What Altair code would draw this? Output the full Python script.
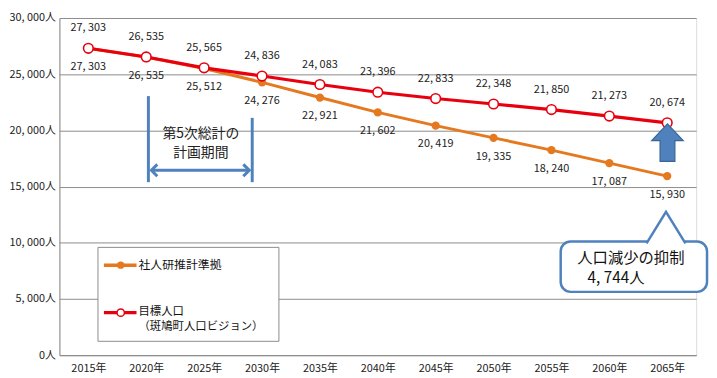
import altair as alt
import pandas as pd

years = [2015, 2020, 2025, 2030, 2035, 2040, 2045, 2050, 2055, 2060, 2065]
target = [27303, 26535, 25565, 24836, 24083, 23396, 22833, 22348, 21850, 21273, 20674]
ipss = [27303, 26535, 25512, 24276, 22921, 21602, 20419, 19335, 18240, 17087, 15930]
series_names = ["社人研推計準拠", "目標人口"]
legend_line2 = "（斑鳩町人口ビジョン）"
period_text = ["第5次総計の", "計画期間"]
callout_text = ["人口減少の抑制", "4, 744人"]
y_ticks = [0, 5000, 10000, 15000, 20000, 25000, 30000]

ORANGE = "#E5791F"
RED = "#E8000E"
BLUE = "#4F81BD"
BLUE_D = "#3A6594"
FONT = "Noto Sans CJK JP"
TOP = 8  # top padding, so the 30,000 label is not cut off

df_o = pd.DataFrame({"year": years, "value": ipss})
df_r = pd.DataFrame({"year": years, "value": target})

X = alt.X("year:Q", scale=alt.Scale(domain=[2012.5, 2067.5], nice=False),
          axis=alt.Axis(values=years, labelExpr="datum.value + '年'", grid=False, ticks=False,
                        title=None, domainColor="#8c8c8c", labelPadding=8, labelFontSize=11,
                        labelColor="#222", labelFont=FONT))
Y = alt.Y("value:Q", scale=alt.Scale(domain=[0, 30000], nice=False),
          axis=alt.Axis(values=y_ticks,
                        labelExpr="datum.value == 0 ? '0人' : replace(format(datum.value, ','), ',', ', ') + '人'",
                        ticks=False, title=None, domainColor="#8c8c8c", gridColor="#8c8c8c",
                        labelPadding=4, labelFontSize=11, labelColor="#222", labelFont=FONT))

lab = "replace(format(datum.value, ','), ',', ', ')"

orange_line = alt.Chart(df_o).mark_line(color=ORANGE, strokeWidth=3).encode(x=X, y=Y)
orange_pts = alt.Chart(df_o).mark_point(filled=True, color=ORANGE, size=70, opacity=1).encode(x="year:Q", y="value:Q")
red_line = alt.Chart(df_r).mark_line(color=RED, strokeWidth=3.2).encode(x="year:Q", y="value:Q")
red_pts = alt.Chart(df_r).mark_point(filled=True, fill="white", stroke=RED, strokeWidth=1.6, size=95, opacity=1).encode(x="year:Q", y="value:Q")

orange_lab = alt.Chart(df_o).transform_calculate(lbl=lab).mark_text(
    dy=19, fontSize=11, color="#222", font=FONT).encode(x="year:Q", y="value:Q", text="lbl:N")
red_lab = alt.Chart(df_r).transform_calculate(lbl=lab).mark_text(
    dy=-20, fontSize=11, color="#222", font=FONT).encode(x="year:Q", y="value:Q", text="lbl:N")

one = alt.Data(values=[{}])

def rule(x1, x2, y1, y2, color, w):
    return alt.Chart(one).mark_rule(color=color, strokeWidth=w).encode(
        x=alt.value(x1), x2=alt.value(x2), y=alt.value(y1 - TOP), y2=alt.value(y2 - TOP))

def text(s, x, y, size, align="left", color="#111", weight="normal"):
    return alt.Chart(one).mark_text(text=s, align=align, baseline="middle", fontSize=size,
                                    color=color, font=FONT, fontWeight=weight).encode(
        x=alt.value(x), y=alt.value(y - TOP))

def sym(path, x, y, size, fill, stroke, w, filled=True):
    m = dict(shape=path, size=size, stroke=stroke, strokeWidth=w, opacity=1)
    if filled:
        m["filled"] = True
        m["fill"] = fill
    else:
        m["filled"] = False
    return alt.Chart(one).mark_point(**m).encode(x=alt.value(x), y=alt.value(y - TOP))

def box(x1, x2, y1, y2, stroke, w, radius=0):
    return alt.Chart(one).mark_rect(fill="white", stroke=stroke, strokeWidth=w, cornerRadius=radius).encode(
        x=alt.value(x1), x2=alt.value(x2), y=alt.value(y1 - TOP), y2=alt.value(y2 - TOP))

# legend box
leg = [
    box(39, 222, 240, 335, "#8c8c8c", 1),
    rule(45, 78, 258, 258, ORANGE, 3.5),
    sym("circle", 62, 258, 55, ORANGE, ORANGE, 0),
    text(series_names[0], 80, 258, 12),
    rule(45, 78, 306, 306, RED, 3.5),
    sym("circle", 62, 306, 55, "white", RED, 1.5),
    text(series_names[1], 80, 305, 11.5),
    text(legend_line2, 80, 321, 11.5),
]

# planning period bracket
bracket = [
    rule(90, 90, 87, 174, BLUE, 3),
    rule(195, 195, 109, 174, BLUE, 3),
    rule(93, 192, 162, 162, BLUE, 3),
    sym("M1,-1 L0,0 L1,1", 93, 162, 144, None, BLUE, 3, filled=False),
    sym("M-1,-1 L0,0 L-1,1", 192, 162, 144, None, BLUE, 3, filled=False),
    text(period_text[0], 143, 125, 14, align="center", color="#222"),
    text(period_text[1], 143, 145, 14, align="center", color="#222"),
]

# block arrow
arrow = sym("M0,-1 L0.84,-0.105 L0.395,-0.105 L0.395,1 L-0.395,1 L-0.395,-0.105 L-0.84,-0.105 Z",
            615, 134, 1444, BLUE, BLUE_D, 1.2)

# callout
callout = [
    box(507, 655, 234, 285, BLUE, 2.5, radius=10),
    sym("M-0.985,0.85 L0,-0.75 L0.985,0.85", 613.5, 219, 1600, "white", BLUE, 2.5),
    text(callout_text[0], 578, 251, 15.5, align="center", color="#111"),
    text(callout_text[1], 563, 271, 15.5, align="center", color="#111"),
]

chart = alt.layer(
    orange_line, orange_pts, red_line, red_pts, orange_lab, red_lab,
    *leg, *bracket, arrow, *callout
).properties(
    width=644, height=349 - TOP,
    autosize=alt.AutoSizeParams(type="none"),
    padding={"left": 52, "top": TOP, "right": 13, "bottom": 21},
).configure_view(stroke=None).configure(background="white")

chart.save("out.html", embed_options={"renderer": "svg", "actions": False})
